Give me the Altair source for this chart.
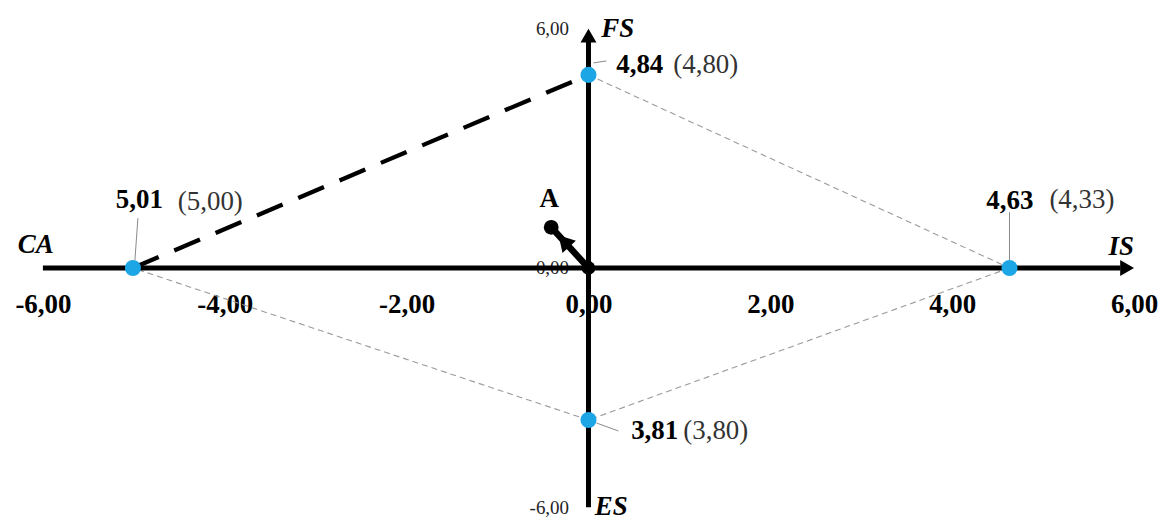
import math
import altair as alt
import pandas as pd

# ---------------- data ----------------
names = ["CA", "FS", "IS", "ES"]
point_x = [-5.01, 0.0, 4.63, 0.0]
point_y = [0.0, 4.84, 0.0, -3.81]
value_labels = ["5,01", "4,84", "4,63", "3,81"]
ref_labels = ["(5,00)", "(4,80)", "(4,33)", "(3,80)"]
vector_a_x = [-0.41]
vector_a_y = [1.02]
vector_a_label = ["A"]
x_tick_values = [-6, -4, -2, 0, 2, 4, 6]
x_tick_labels = ["-6,00", "-4,00", "-2,00", "0,00", "2,00", "4,00", "6,00"]
y_tick_values = [-6, 0, 6]
y_tick_labels = ["-6,00", "0,00", "6,00"]

# ---------------- layout ----------------
W, H = 1094, 480
XMIN, XMAX, YMIN, YMAX = -6, 6, -6, 6
PXX = W / (XMAX - XMIN)
PXY = H / (YMAX - YMIN)
FONT = "Liberation Serif"


def ox(px):
    return px / PXX


def oy(px):  # screen pixels (down positive) -> data units
    return -px / PXY


# pixel offsets of labels from their point (bold right edge, ref left edge)
bold_off = {"CA": (30, -68), "FS": (75, -10), "IS": (24, -67), "ES": (90, 11)}
ref_off = {"CA": (45, -66), "FS": (85, -10), "IS": (40, -68), "ES": (95, 11)}
leader_off = {
    "CA": ((2, -8), (5, -50)),
    "FS": ((5, -12), (18, -14)),
    "IS": ((0, -6), (0, -56)),
    "ES": ((8, 3), (30, 11)),
}
# axis-name positions (data units) and alignment
name_pos = {
    "CA": (-6.08, 0.58, "center"),
    "FS": (0.14, 5.98, "left"),
    "IS": (5.86, 0.53, "center"),
    "ES": (0.07, -5.98, "left"),
}

xscale = alt.Scale(domain=[XMIN, XMAX], nice=False, zero=False)
yscale = alt.Scale(domain=[YMIN, YMAX], nice=False, zero=False)


def label_expr(values, labels):
    parts = [f"datum.value == {v} ? '{l}'" for v, l in zip(values, labels)]
    return " : ".join(parts) + " : ''"


xaxis = alt.Axis(
    values=x_tick_values, labelExpr=label_expr(x_tick_values, x_tick_labels),
    offset=-(H / 2), domain=False, ticks=False, tickSize=0, grid=False,
    labelPadding=24, labelFont=FONT, labelFontSize=27, labelFontWeight="bold",
    labelColor="black", labelFlush=False, labelOverlap=False, title=None,
)
yaxis = alt.Axis(
    values=y_tick_values, labelExpr=label_expr(y_tick_values, y_tick_labels),
    offset=-(W / 2), domain=False, ticks=False, tickSize=0, grid=False,
    labelPadding=20, labelFont=FONT, labelFontSize=19, labelFontWeight="normal",
    labelColor="#222222", labelFlush=False, labelOverlap=False, title=None,
    labelBaseline="middle",
)


def X(f):
    return alt.X(f, type="quantitative", scale=xscale, axis=xaxis)


def Y(f):
    return alt.Y(f, type="quantitative", scale=yscale, axis=yaxis)


pts = pd.DataFrame({"name": names, "x": point_x, "y": point_y,
                    "val": value_labels, "ref": ref_labels})
P = {n: (x, y) for n, x, y in zip(names, point_x, point_y)}

# polygon edges
thin_edges = [("FS", "IS"), ("IS", "ES"), ("ES", "CA")]
thin_df = pd.DataFrame([{"x": P[a][0], "y": P[a][1], "x2": P[b][0], "y2": P[b][1]}
                        for a, b in thin_edges])
thick_df = pd.DataFrame([{"x": P["CA"][0], "y": P["CA"][1],
                          "x2": P["FS"][0], "y2": P["FS"][1]}])

# main axes lines
axes_df = pd.DataFrame([
    {"x": XMIN, "y": 0, "x2": 5.85, "y2": 0},
    {"x": 0, "y": YMIN, "x2": 0, "y2": 5.75},
])
heads_r = pd.DataFrame({"x": [XMAX - ox(7)], "y": [0]})
heads_u = pd.DataFrame({"x": [0], "y": [YMAX + oy(7)]})

# leader lines
lead_df = pd.DataFrame([
    {"x": P[n][0] + ox(s[0]), "y": P[n][1] + oy(s[1]),
     "x2": P[n][0] + ox(e[0]), "y2": P[n][1] + oy(e[1])}
    for n, (s, e) in leader_off.items()
])

bold_df = pd.DataFrame([
    {"x": P[n][0] + ox(bold_off[n][0]), "y": P[n][1] + oy(bold_off[n][1]), "t": v}
    for n, v in zip(names, value_labels)
])
ref_df = pd.DataFrame([
    {"x": P[n][0] + ox(ref_off[n][0]), "y": P[n][1] + oy(ref_off[n][1]), "t": v}
    for n, v in zip(names, ref_labels)
])

# vector A
vec_df = pd.DataFrame({"x": [0.0], "y": [0.0], "x2": vector_a_x, "y2": vector_a_y})
a_df = pd.DataFrame({"x": vector_a_x, "y": vector_a_y})
frac = 0.66
head_df = pd.DataFrame({"x": [vector_a_x[0] * frac], "y": [vector_a_y[0] * frac]})
head_angle = math.degrees(math.atan2(vector_a_x[0] * PXX, vector_a_y[0] * PXY)) % 360
a_lab_df = pd.DataFrame({"x": [vector_a_x[0] + ox(-2)], "y": [vector_a_y[0] + oy(-28)],
                         "t": vector_a_label})
origin_df = pd.DataFrame({"x": [0.0], "y": [0.0]})

layers = []
layers.append(alt.Chart(thin_df).mark_rule(color="#9a9a9a", strokeWidth=1.1,
                                           strokeDash=[6, 4]).encode(
    x=X("x"), y=Y("y"), x2="x2", y2="y2"))
layers.append(alt.Chart(thick_df).mark_rule(color="black", strokeWidth=4.3,
                                            strokeDash=[28, 17]).encode(
    x=X("x"), y=Y("y"), x2="x2", y2="y2"))
layers.append(alt.Chart(axes_df).mark_rule(color="black", strokeWidth=5).encode(
    x=X("x"), y=Y("y"), x2="x2", y2="y2"))
layers.append(alt.Chart(heads_r).mark_point(shape="triangle-right", filled=True,
                                            size=256, color="black", opacity=1).encode(
    x=X("x"), y=Y("y")))
layers.append(alt.Chart(heads_u).mark_point(shape="triangle-up", filled=True,
                                            size=256, color="black", opacity=1).encode(
    x=X("x"), y=Y("y")))
layers.append(alt.Chart(lead_df).mark_rule(color="#8a8a8a", strokeWidth=1).encode(
    x=X("x"), y=Y("y"), x2="x2", y2="y2"))
layers.append(alt.Chart(vec_df).mark_rule(color="black", strokeWidth=6.5).encode(
    x=X("x"), y=Y("y"), x2="x2", y2="y2"))
layers.append(alt.Chart(head_df).mark_point(shape="triangle-up", filled=True, size=330,
                                            angle=head_angle, color="black",
                                            opacity=1).encode(x=X("x"), y=Y("y")))
layers.append(alt.Chart(a_df).mark_circle(size=220, color="black", opacity=1).encode(
    x=X("x"), y=Y("y")))
layers.append(alt.Chart(origin_df).mark_circle(size=190, color="black", opacity=1).encode(
    x=X("x"), y=Y("y")))
layers.append(alt.Chart(pts).mark_circle(size=260, color="#1CA6E6", opacity=1).encode(
    x=X("x"), y=Y("y")))
layers.append(alt.Chart(bold_df).mark_text(font=FONT, fontSize=27, fontWeight="bold",
                                           align="right", baseline="middle",
                                           color="black").encode(
    x=X("x"), y=Y("y"), text="t:N"))
layers.append(alt.Chart(ref_df).mark_text(font=FONT, fontSize=27, fontWeight="normal",
                                          align="left", baseline="middle",
                                          color="#333333").encode(
    x=X("x"), y=Y("y"), text="t:N"))
layers.append(alt.Chart(a_lab_df).mark_text(font=FONT, fontSize=27, fontWeight="bold",
                                            align="center", baseline="middle",
                                            color="black").encode(
    x=X("x"), y=Y("y"), text="t:N"))
for n in names:
    nx, ny, al = name_pos[n]
    df = pd.DataFrame({"x": [nx], "y": [ny], "t": [n]})
    layers.append(alt.Chart(df).mark_text(font=FONT, fontSize=27, fontWeight="bold",
                                          fontStyle="italic", align=al,
                                          baseline="middle", color="black").encode(
        x=X("x"), y=Y("y"), text="t:N"))

chart = alt.layer(*layers).properties(
    width=W, height=H,
    padding={"left": 35, "top": 20, "right": 25, "bottom": 14},
    autosize=alt.AutoSizeParams(type="none"),
    background="white",
).configure_view(stroke=None)

chart.save("out.html", embed_options={"renderer": "svg", "actions": False})
